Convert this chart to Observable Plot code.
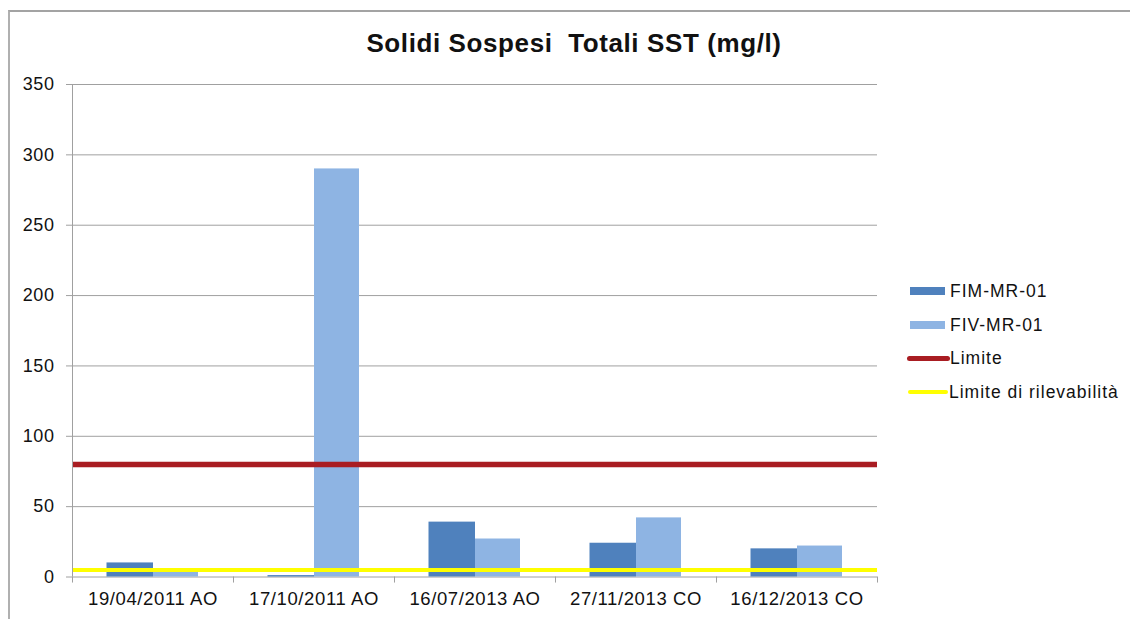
<!DOCTYPE html>
<html>
<head>
<meta charset="utf-8">
<script src="https://cdn.jsdelivr.net/npm/d3@7"></script>
<script src="https://cdn.jsdelivr.net/npm/@observablehq/plot@0.6"></script>
<style>
  body { margin: 0; background: #fff; font-family: "Liberation Sans", Arial, sans-serif; }
  #wrap { position: relative; width: 1130px; height: 619px; overflow: hidden; background: #fff; }
  #frame { position: absolute; left: 8px; top: 10px; right: -4px; bottom: -4px; border-top: 2px solid #a3a3a3; border-left: 2px solid #b0b0b0; }
  #chart { position: absolute; left: 0; top: 0; }
  #chart svg text { letter-spacing: 0.6px; }
  #title { position: absolute; left: 0; width: 1148px; top: 30px; text-align: center; font-weight: bold; font-size: 26px; line-height: 26px; letter-spacing: 0.6px; white-space: pre; color: #111; }
  .lg { position: absolute; left: 906px; height: 20px; display: flex; align-items: center; font-size: 17.5px; letter-spacing: 1px; color: #111; white-space: nowrap; }
  .sw { flex: none; }
</style>
</head>
<body>
<div id="wrap">
  <div id="frame"></div>
  <div id="chart"></div>
  <div id="title"></div>
  <div id="legend"></div>
</div>
<script>
// ---- data ----
const titleText = "Solidi Sospesi  Totali SST (mg/l)";
const dates = ["19/04/2011 AO", "17/10/2011 AO", "16/07/2013 AO", "27/11/2013 CO", "16/12/2013 CO"];
const fimValues = [10, 1, 39, 24, 20];
const fivValues = [4, 290, 27, 42, 22];
const limite = [80];
const limiteRilevabilita = [5];
const yTicks = [0, 50, 100, 150, 200, 250, 300, 350];
const seriesNames = ["FIM-MR-01", "FIV-MR-01", "Limite", "Limite di rilevabilità"];
const seriesColors = ["#4f81bd", "#8eb4e3", "#a91d22", "#ffff00"];

// ---- tables ----
const fim = dates.map((d, i) => ({date: d, value: fimValues[i]}));
const fiv = dates.map((d, i) => ({date: d, value: fivValues[i]}));

const half = 80.5; // half band width in px (805 / 5 / 2)

const chart = Plot.plot({
  width: 1130,
  height: 619,
  marginLeft: 72,
  marginRight: 253,
  marginTop: 84,
  marginBottom: 42.5,
  style: {fontFamily: "'Liberation Sans', Arial, sans-serif", background: "transparent", color: "#111"},
  x: {type: "band", domain: dates, padding: 0, label: null},
  y: {domain: [0, 350], label: null},
  marks: [
    Plot.gridY(yTicks, {stroke: "#a0a0a0", strokeOpacity: 1}),
    Plot.barY(fim, {x: "date", y: "value", fill: seriesColors[0], insetLeft: 34.5, insetRight: 80}),
    Plot.barY(fiv, {x: "date", y: "value", fill: seriesColors[1], insetLeft: 81, insetRight: 35}),
    Plot.ruleY(limite, {stroke: seriesColors[2], strokeWidth: 5.5}),
    Plot.ruleY(limiteRilevabilita, {stroke: seriesColors[3], strokeWidth: 4}),
    Plot.ruleX([dates[0]], {dx: -half, y1: 0, y2: 350, stroke: "#a0a0a0"}),
    Plot.ruleX(dates, {dx: -half, y1: 0, y2: -4.3, stroke: "#a0a0a0"}),
    Plot.ruleX([dates[dates.length - 1]], {dx: half, y1: 0, y2: -4.3, stroke: "#a0a0a0"}),
    Plot.axisY(yTicks, {tickSize: 6, tickPadding: 12, fontSize: 18, stroke: "#a0a0a0", fill: "#111", label: null}),
    Plot.axisX({tickSize: 0, tickPadding: 15, fontSize: 18.5, fill: "#111", label: null})
  ]
});
document.getElementById("chart").appendChild(chart);
document.getElementById("title").textContent = titleText;

// ---- legend ----
const legend = document.getElementById("legend");
const rowCenters = [291, 325, 358, 392];
const swatchSpecs = [
  {w: 35, h: 8, ml: 4, mr: 5, r: 0},
  {w: 35, h: 8, ml: 4, mr: 5, r: 0},
  {w: 43, h: 5, ml: 1, mr: 0, r: 3},
  {w: 40, h: 4, ml: 2, mr: 1, r: 2}
];
seriesNames.forEach((name, i) => {
  const row = document.createElement("div");
  row.className = "lg";
  row.style.top = (rowCenters[i] - 10) + "px";
  const s = swatchSpecs[i];
  const sw = document.createElement("span");
  sw.className = "sw";
  sw.style.cssText = `display:inline-block;width:${s.w}px;height:${s.h}px;background:${seriesColors[i]};margin-left:${s.ml}px;margin-right:${s.mr}px;border-radius:${s.r}px;`;
  const t = document.createElement("span");
  t.textContent = name;
  row.appendChild(sw);
  row.appendChild(t);
  legend.appendChild(row);
});
</script>
</body>
</html>
